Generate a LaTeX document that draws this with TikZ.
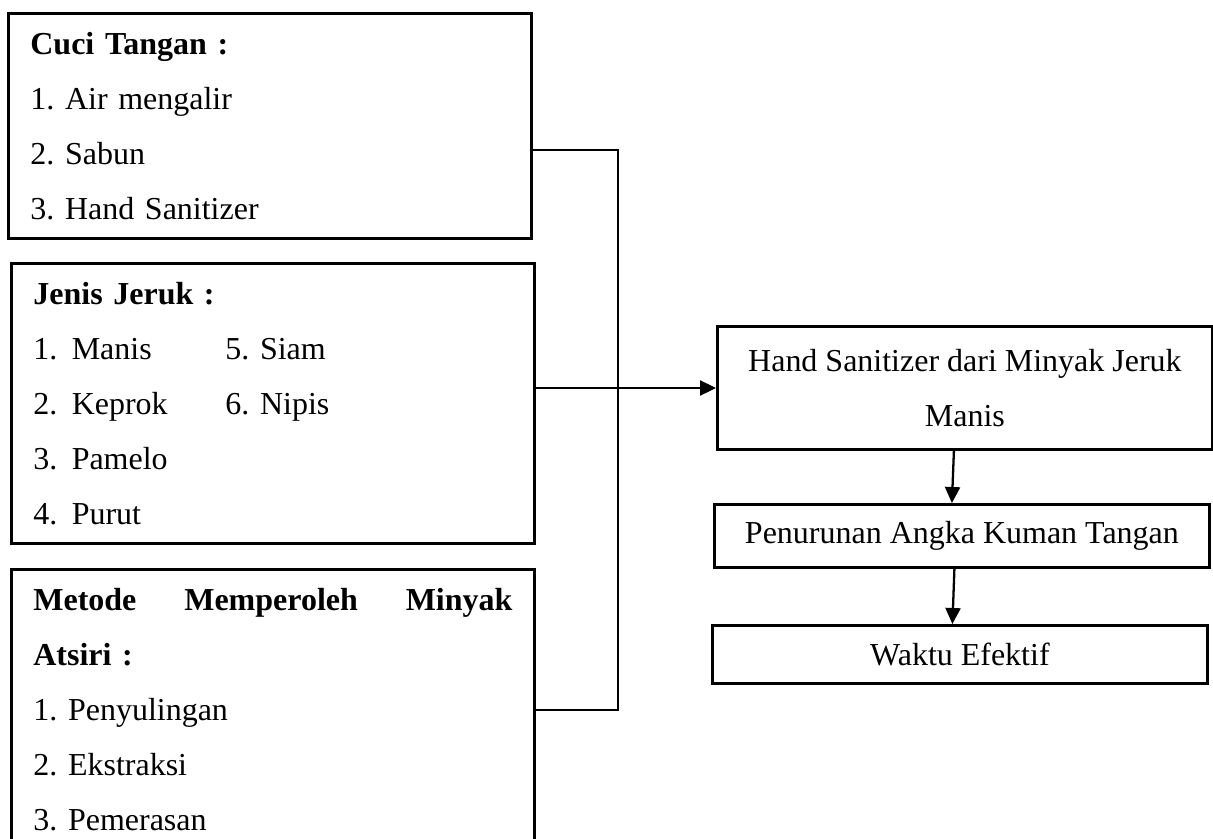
\documentclass[tikz,border=0pt]{standalone}
\usepackage{fontspec}
\setmainfont{Liberation Serif}
\usetikzlibrary{arrows.meta}
\frenchspacing
\tikzset{
  box/.style={draw, line width=1.6pt, inner ysep=0pt, font=\fontsize{18.2}{31.3}\selectfont},
  listbox/.style={box, anchor=north west, align=left, inner xsep=0.44cm, text width=9.58cm, minimum height=#1},
  flowbox/.style={box, anchor=north west, align=center, inner xsep=0pt, minimum width=9.9cm, minimum height=#1},
  conn/.style={line width=0.7pt},
  arr/.style={line width=1.3pt, -{Triangle[length=0.32cm,width=0.3cm]}}
}
\newcommand{\nsp}{\hspace{0.45em}}
\begin{document}
\begin{tikzpicture}
    \path[use as bounding box, clip] (0,0) rectangle (24.26,-16.78);

    \node[listbox=4.5cm] (ct) at (0.14,-0.24) {\textbf{Cuci Tangan :}\\ 1. Air mengalir\\ 2. Sabun\\ 3. Hand Sanitizer};
    \node[listbox=5.6cm] (jj) at (0.2,-5.24) {\textbf{Jenis Jeruk :}\\
        \makebox[3.84cm][l]{1.\nsp Manis}5. Siam\\
        \makebox[3.84cm][l]{2.\nsp Keprok}6. Nipis\\
        3.\nsp Pamelo\\ 4.\nsp Purut};
    \node[listbox=5.6cm] (mt) at (0.2,-11.36) {\textbf{Metode\hfill Memperoleh\hfill Minyak}\\ \textbf{Atsiri :}\\
        1. Penyulingan\\ 2. Ekstraksi\\ 3. Pemerasan};

    \node[flowbox=2.46cm] (hs) at (14.32,-6.5) {Hand Sanitizer dari Minyak Jeruk\\ Manis};
    \node[flowbox=1.26cm] (pk) at (14.26,-10.06) {Penurunan Angka Kuman Tangan};
    \node[flowbox=1.16cm] (we) at (14.22,-12.48) {Waktu Efektif};

    \coordinate (busT) at (12.36,-3.0);
    \coordinate (busM) at (12.36,-7.76);
    \coordinate (busB) at (12.36,-14.2);

    \draw[conn] (ct.east |- busT) -- (busT) -- (busB) -- (mt.east |- busB);
    \draw[conn] (jj.east |- busM) -- (busM);
    \draw[arr] (busM) -- (hs.west |- busM);
    \draw[arr] ([xshift=-0.22cm]hs.south) -- ([xshift=-0.2cm]pk.north);
    \draw[arr] ([xshift=-0.15cm]pk.south) -- ([xshift=-0.15cm]we.north);
\end{tikzpicture}
\end{document}
